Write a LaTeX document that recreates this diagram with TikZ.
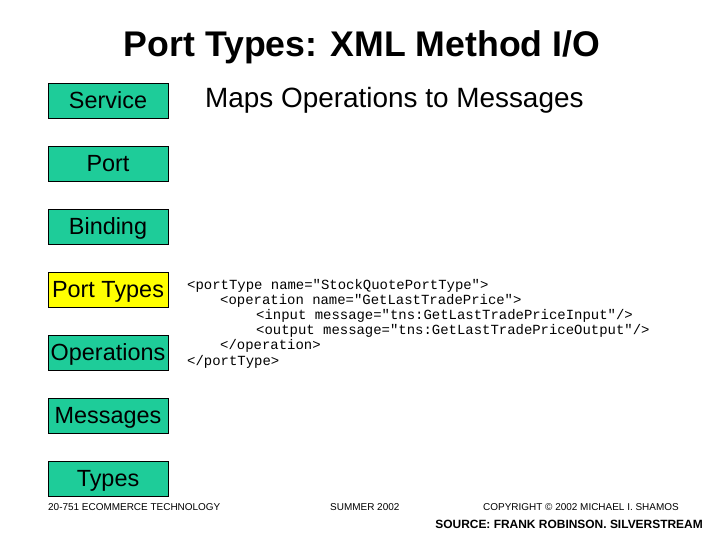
\documentclass[tikz,border=0pt]{standalone}
\usepackage{fontspec}
\setmainfont{Liberation Sans}
\newfontfamily\codefont{Liberation Mono}
\definecolor{boxgreen}{RGB}{30,204,153}
\definecolor{boxyellow}{RGB}{255,255,0}

\begin{document}
\begin{tikzpicture}[x=1bp,y=-1bp,
	partbox/.style={draw=black, line width=0.9bp, fill=boxgreen, minimum width=120bp, minimum height=35bp, inner sep=0pt, text height=16.8bp, text depth=0pt, font=\fontsize{23.5}{26}\selectfont},
	codeline/.style={anchor=base west, inner sep=0pt, font=\codefont\fontsize{14}{15}\selectfont},
	foot/.style={anchor=base west, inner sep=0pt, font=\fontsize{10}{12}\selectfont}]
			\useasboundingbox (0,0) rectangle (720,540);
			\node[anchor=base, inner sep=0pt, font=\bfseries\fontsize{35.8}{40}\selectfont] (title) at (362,57) {Port Types: XML Method I/O};
			\node[partbox] (service) at (108,100.5) {Service};
			\node[partbox] (port) at (108,163.5) {Port};
			\node[partbox] (binding) at (108,226.5) {Binding};
			\node[partbox, fill=boxyellow] (porttypes) at (108,289.5) {Port Types};
			\node[partbox] (operations) at (108,352.5) {Operations};
			\node[partbox] (messages) at (108,415.5) {Messages};
			\node[partbox] (types) at (108,478.5) {Types};
			\node[anchor=base west, inner sep=0pt, font=\fontsize{28}{32}\selectfont] (maps) at (205,107.5) {Maps Operations to Messages};
			\node[codeline] (c1) at (187,289) {<portType name="StockQuotePortType">};
			\node[codeline] (c2) at (220,304) {<operation name="GetLastTradePrice">};
			\node[codeline] (c3) at (256,319) {<input message="tns:GetLastTradePriceInput"/>};
			\node[codeline] (c4) at (256,334) {<output message="tns:GetLastTradePriceOutput"/>};
			\node[codeline] (c5) at (220,349) {</operation>};
			\node[codeline] (c6) at (187,365) {</portType>};
			\node[foot] (course) at (48,510.5) {20-751 ECOMMERCE TECHNOLOGY};
			\node[foot] (term) at (330,510.5) {SUMMER 2002};
			\node[foot] (copyright) at (483,510.5) {COPYRIGHT © 2002 MICHAEL I. SHAMOS};
			\node[anchor=base east, inner sep=0pt, font=\bfseries\fontsize{12}{14}\selectfont] (source) at (703,528.5) {SOURCE: FRANK ROBINSON. SILVERSTREAM};
		\end{tikzpicture}
\end{document}
